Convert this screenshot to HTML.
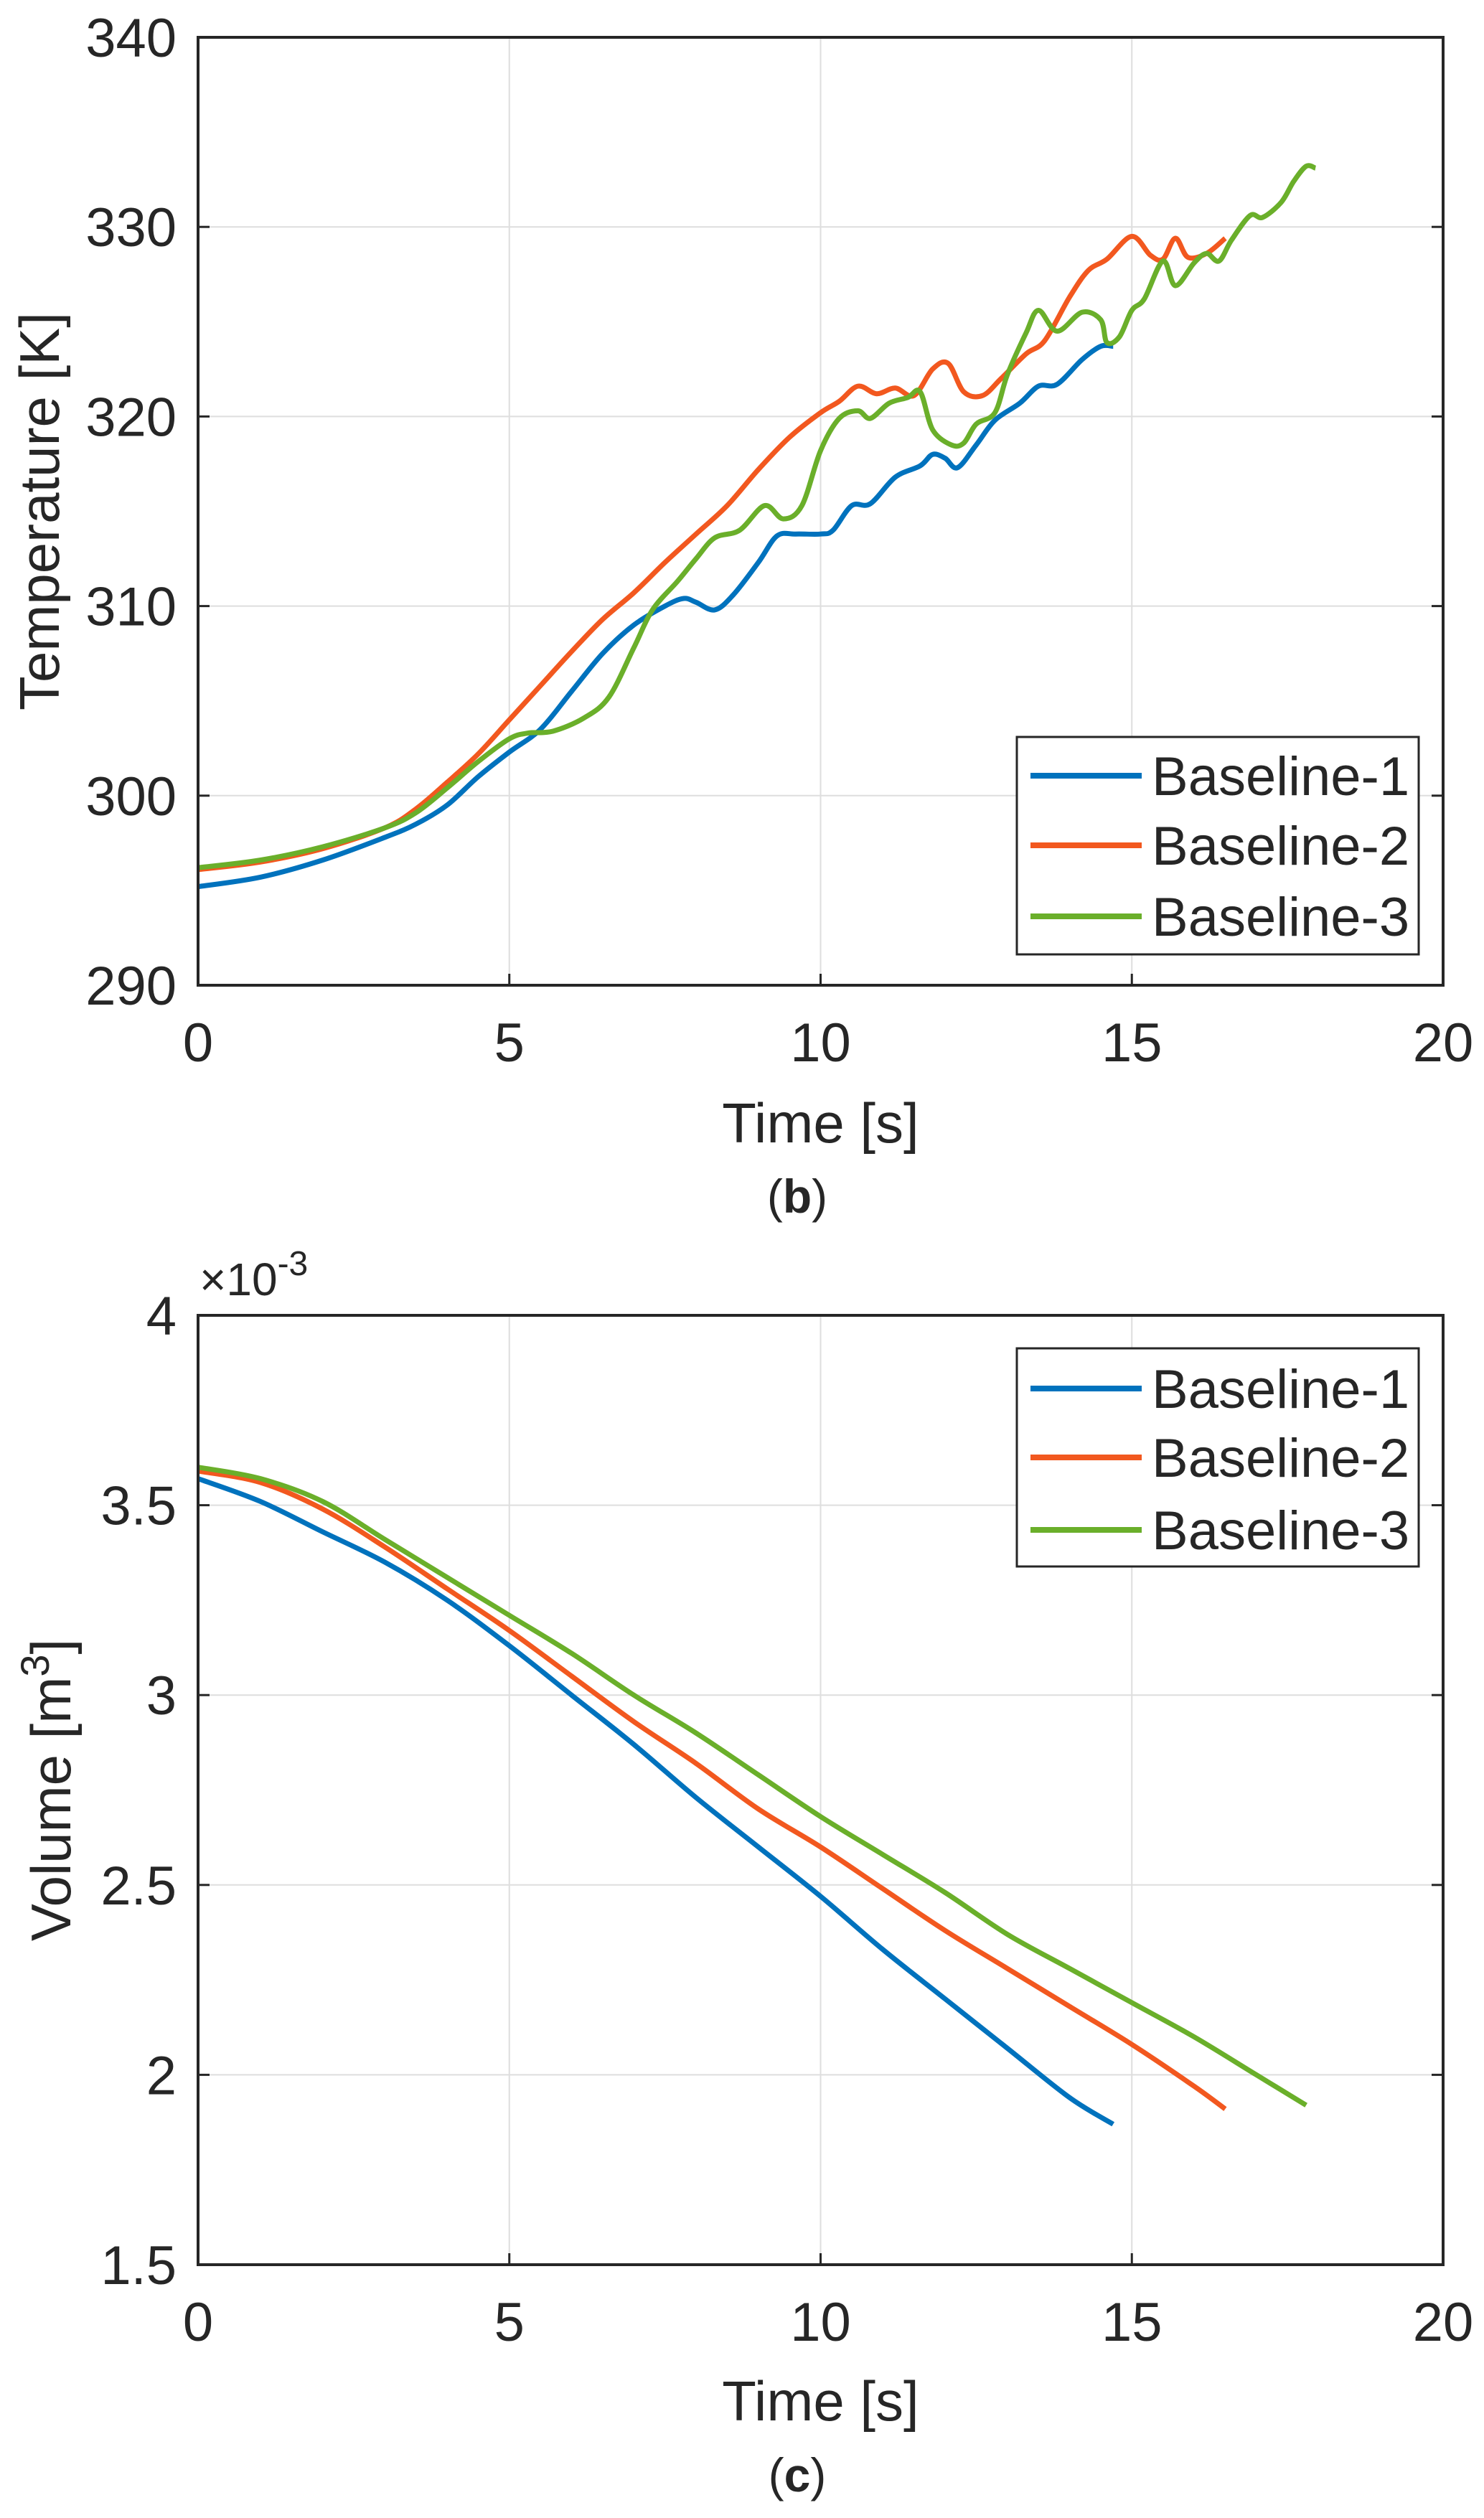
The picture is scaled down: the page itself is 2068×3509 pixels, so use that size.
<!DOCTYPE html>
<html><head><meta charset="utf-8"><style>
body{margin:0;background:#fff}
svg{display:block}
text{font-family:"Liberation Sans",sans-serif;fill:#262626}
</style></head><body>
<svg id="fig" width="2068" height="3509" viewBox="0 0 2068 3509"></svg>
<script>
// Plot (b) temperature data
const tB1 = [0,1,2,3,3.5,4,4.5,5,5.5,6,6.5,7,7.5,7.8,8,8.3,8.6,9,9.3,9.6,10,10.2,10.5,10.8,11.2,11.6,11.8,12,12.2,12.5,12.8,13.2,13.5,13.8,14.2,14.5,14.7];
const vB1 = [295.2,295.7,296.6,297.8,298.5,299.5,301,302.3,303.5,305.5,307.5,309,310,310.4,310.2,309.8,310.6,312.3,313.7,313.8,313.8,314,315.3,315.4,316.8,317.4,318,317.8,317.3,318.5,319.8,320.7,321.6,321.7,323,323.7,323.7];
const tB2 = [0,1,2,3,3.5,4,4.5,5,5.5,6,6.5,7,7.5,8,8.5,9,9.5,10,10.3,10.6,10.9,11.2,11.5,11.8,12.05,12.3,12.6,12.9,13.3,13.6,14,14.3,14.6,15,15.3,15.5,15.7,15.9,16.2,16.5];
const vB2 = [296.1,296.5,297.2,298.3,299.3,300.7,302.2,304,305.8,307.6,309.3,310.7,312.3,313.8,315.3,317.2,318.9,320.2,320.8,321.6,321.2,321.5,321.1,322.5,322.8,321.3,321.1,322,323.3,324,326.3,327.7,328.3,329.5,328.5,328.3,329.4,328.4,328.6,329.4];
const tB3 = [0,1,2,3,3.5,4,4.5,5,5.3,5.7,6.2,6.6,7,7.3,7.7,8,8.3,8.7,9.1,9.4,9.7,10,10.3,10.6,10.8,11.1,11.4,11.6,11.8,12.1,12.3,12.5,12.8,13,13.3,13.5,13.8,14.2,14.5,14.6,14.8,15,15.2,15.5,15.7,16,16.2,16.4,16.6,16.9,17.1,17.4,17.6,17.8,17.95];
const vB3 = [296.2,296.6,297.3,298.3,299.1,300.4,301.8,303,303.3,303.4,304.1,305.2,307.8,309.8,311.3,312.5,313.6,314,315.3,314.6,315.3,318.2,319.9,320.3,319.9,320.7,321,321.3,319.3,318.5,318.6,319.6,320.2,322.2,324.4,325.6,324.5,325.5,325.1,323.9,324.2,325.6,326.2,328.2,326.9,328.1,328.6,328.2,329.3,330.6,330.5,331.3,332.4,333.2,333.1];
// Plot (c) volume data (x1e-3)
const tC1 = [0,1,2,3,4,5,6,7,8,9,10,11,12,13,14,14.7];
const vC1 = [3.57,3.51,3.43,3.35,3.25,3.13,3.00,2.87,2.73,2.60,2.47,2.33,2.20,2.07,1.94,1.87];
const tC2 = [0,1,2,3,4,5,6,7,8,9,10,11,12,13,14,15,16,16.5];
const vC2 = [3.59,3.56,3.49,3.39,3.28,3.17,3.05,2.93,2.82,2.70,2.60,2.49,2.38,2.28,2.18,2.08,1.97,1.91];
const tC3 = [0,1,2,3,4,5,6,7,8,9,10,11,12,13,14,15,16,17,17.8];
const vC3 = [3.60,3.57,3.51,3.41,3.31,3.21,3.11,3.00,2.90,2.79,2.68,2.58,2.48,2.37,2.28,2.19,2.10,2.00,1.92];
const xTicks = [0,5,10,15,20];
const yTicksB = [290,300,310,320,330,340];
const yTicksC = [1.5,2,2.5,3,3.5,4];
const yTickLabelsC = ["1.5","2","2.5","3","3.5","4"];
const seriesNames = ["Baseline-1","Baseline-2","Baseline-3"];
const colors = ["#0072BD","#F2581F","#6AAF2A"];

const NS="http://www.w3.org/2000/svg";
const svg=document.getElementById('fig');
function mk(tag,attrs,parent){const e=document.createElementNS(NS,tag);for(const k in attrs)e.setAttribute(k,attrs[k]);(parent||svg).appendChild(e);return e;}
function smooth(pts){let d=`M${pts[0][0]},${pts[0][1]}`;for(let i=0;i<pts.length-1;i++){const p0=pts[Math.max(0,i-1)],p1=pts[i],p2=pts[i+1],p3=pts[Math.min(pts.length-1,i+2)];const c1x=p1[0]+(p2[0]-p0[0])/6,c1y=p1[1]+(p2[1]-p0[1])/6,c2x=p2[0]-(p3[0]-p1[0])/6,c2y=p2[1]-(p3[1]-p1[1])/6;d+=` C${c1x},${c1y} ${c2x},${c2y} ${p2[0]},${p2[1]}`;}return d;}

function plot(cfg){
  const L=276,R=2011,T=cfg.top,B=cfg.bottom;
  const xs=t=>L+(t-0)/(20-0)*(R-L);
  const ys=v=>B-(v-cfg.ymin)/(cfg.ymax-cfg.ymin)*(B-T);
  const g=mk('g',{});
  
  
  xTicks.forEach(t=>{
    const l=mk('line',{x1:xs(t),x2:xs(t),y1:T,y2:B,stroke:'#dedede','stroke-width':2},g);
    
    const tk=mk('line',{x1:xs(t),x2:xs(t),y1:B,y2:B-16,stroke:'#262626','stroke-width':3},g);
    
    const tx=mk('text',{x:xs(t),y:B+106,'font-size':76,'text-anchor':'middle'},g);tx.textContent=t;
    
  });
  cfg.yticks.forEach((v,i)=>{
    const l=mk('line',{x1:L,x2:R,y1:ys(v),y2:ys(v),stroke:'#dedede','stroke-width':2},g);
    
    const tk=mk('line',{x1:L,x2:L+16,y1:ys(v),y2:ys(v),stroke:'#262626','stroke-width':3},g);
    
    const tk2=mk('line',{x1:R,x2:R-16,y1:ys(v),y2:ys(v),stroke:'#262626','stroke-width':3},g);
    
    const tx=mk('text',{x:L-30,y:ys(v)+27,'font-size':76,'text-anchor':'end'},g);tx.textContent=cfg.ylabels[i];
    
  });
  cfg.series.forEach((s,i)=>{
    const p=mk('path',{d:smooth(s[0].map((t,j)=>[xs(t),ys(s[1][j])])),fill:'none',stroke:colors[i],'stroke-width':7,'stroke-linejoin':'round'},g);
    
  });
  const box=mk('rect',{x:L,y:T,width:R-L,height:B-T,fill:'none',stroke:'#262626','stroke-width':4},g);
  
  const xl=mk('text',{x:(L+R)/2,y:cfg.xlabelY,'font-size':78,'text-anchor':'middle'},g);xl.textContent='Time [s]';
  
  const yl=mk('text',{x:0,y:0,'font-size':78,'text-anchor':'middle',transform:`translate(${cfg.ylabelX},${(T+B)/2}) rotate(-90)`},g);
  yl.innerHTML=cfg.ylabel;
  
  const lg=mk('g',{},g);
  
  mk('rect',{x:1417,y:cfg.legTop,width:560,height:cfg.legBot-cfg.legTop,fill:'#fff',stroke:'#262626','stroke-width':3},lg);
  cfg.legRows.forEach((ry,i)=>{
    const ln=mk('line',{x1:1436,x2:1591,y1:ry,y2:ry,stroke:colors[i],'stroke-width':8},lg);
    
    const t=mk('text',{x:1605,y:ry+27,'font-size':76},lg);t.textContent=seriesNames[i];
    
  });
  const cap=mk('text',{x:1111,y:cfg.capY,'font-size':66,'text-anchor':'middle','font-family':'Liberation Serif, serif'},g);
  cap.innerHTML=cfg.caption;
  
  return {xs,ys,g};
}

plot({name:'temperature-chart',top:52,bottom:1373,ymin:290,ymax:340,yticks:yTicksB,ylabels:yTicksB.map(String),
  series:[[tB1,vB1],[tB2,vB2],[tB3,vB3]],xlabelY:1592,ylabelX:82,ylabel:'Temperature [K]',
  legTop:1027,legBot:1330,legRows:[1081,1178,1277],capY:1690,caption:'(<tspan font-weight="bold">b</tspan>)'});
const pc=plot({name:'volume-chart',top:1833,bottom:3156,ymin:1.5,ymax:4,yticks:yTicksC,ylabels:yTickLabelsC,
  series:[[tC1,vC1],[tC2,vC2],[tC3,vC3]],xlabelY:3373,ylabelX:98,ylabel:'Volume [m<tspan dy="-30" font-size="56">3</tspan><tspan dy="30">]</tspan>',
  legTop:1879,legBot:2183,legRows:[1935,2031,2132],capY:3472,caption:'(<tspan font-weight="bold">c</tspan>)'});
const ex=mk('text',{x:278,y:1805,'font-size':64},pc.g);
ex.innerHTML='×10<tspan dy="-28" font-size="48">-3</tspan>';


</script>
</body></html>
